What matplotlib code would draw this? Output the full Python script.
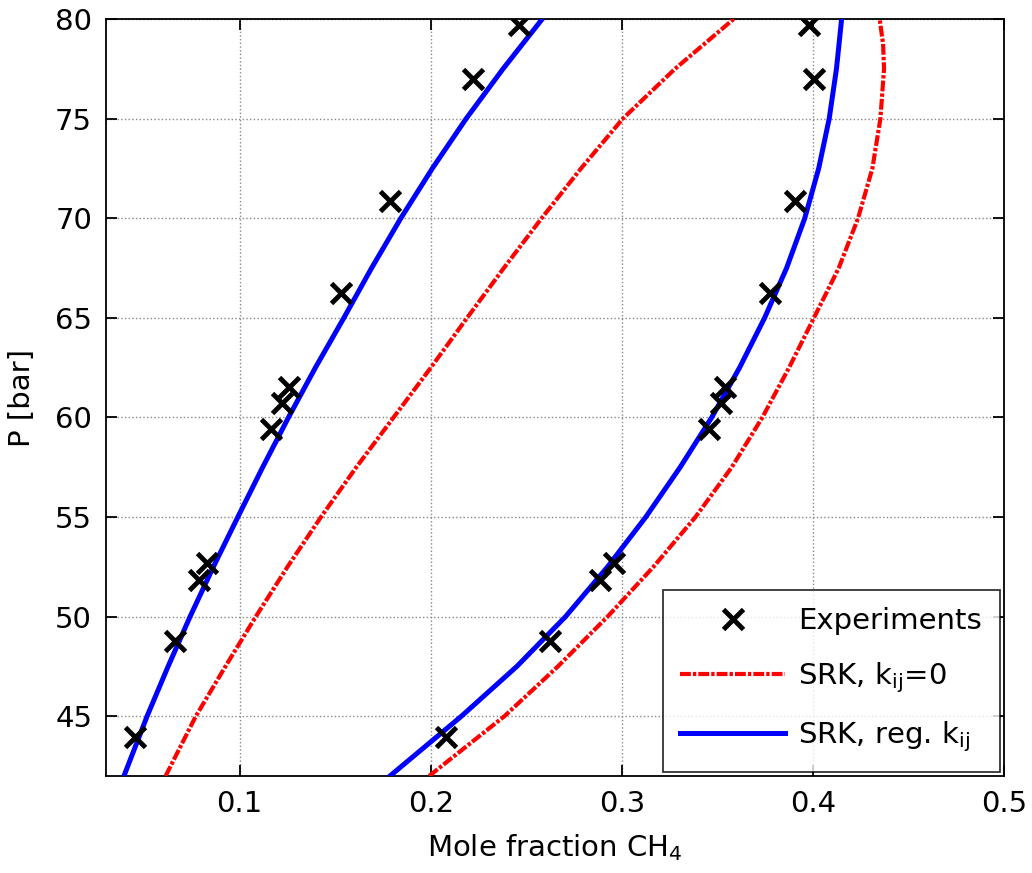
import matplotlib
matplotlib.use('Agg')
import matplotlib.pyplot as plt
import numpy as np

plt.rcParams['font.family'] = ['DejaVu Sans']
plt.rcParams['mathtext.default'] = 'regular'

# experimental points (same pressures on both branches)
exp_P = [43.95, 48.8, 51.85, 52.7, 59.4, 60.75, 61.55, 66.25, 70.85, 77.0, 79.7]
exp_x_left = [0.0452, 0.0661, 0.0787, 0.0830, 0.1166, 0.1222, 0.1258, 0.1529, 0.1786, 0.2222, 0.2459]
exp_x_right = [0.2082, 0.2626, 0.2887, 0.2961, 0.3455, 0.3520, 0.3542, 0.3773, 0.3904, 0.4008, 0.3979]

# SRK, reg. kij
blue_left_P = [42.0, 45.0, 47.5, 50.0, 52.5, 55.0, 57.5, 60.0, 62.5, 65.0, 67.5, 70.0, 72.5, 75.0, 77.5, 80.0]
blue_left_x = [0.0394, 0.0515, 0.0625, 0.0740, 0.0862, 0.0990, 0.1120, 0.1255, 0.1396, 0.1545, 0.1690, 0.1843, 0.2008, 0.2185, 0.2378, 0.2583]
blue_right_P = [42.0, 45.0, 47.5, 50.0, 52.5, 55.0, 57.5, 60.0, 62.5, 65.0, 67.5, 70.0, 72.5, 75.0, 77.5, 80.0]
blue_right_x = [0.1786, 0.2160, 0.2450, 0.2705, 0.2925, 0.3125, 0.3305, 0.3470, 0.3616, 0.3747, 0.3862, 0.3957, 0.4030, 0.4085, 0.4123, 0.4150]

# SRK, kij=0
red_left_P = [42.0, 45.0, 47.5, 50.0, 52.5, 55.0, 57.5, 60.0, 62.5, 65.0, 67.5, 70.0, 72.5, 75.0, 77.5, 80.0]
red_left_x = [0.0612, 0.0770, 0.0925, 0.1084, 0.1250, 0.1425, 0.1610, 0.1805, 0.2000, 0.2190, 0.2382, 0.2580, 0.2786, 0.3005, 0.3278, 0.3585]
red_right_P = [42.0, 45.0, 47.5, 50.0, 52.5, 55.0, 57.5, 60.0, 62.5, 65.0, 67.5, 70.0, 72.5, 75.0, 77.5, 78.75, 80.0]
red_right_x = [0.1991, 0.2385, 0.2665, 0.2925, 0.3165, 0.3385, 0.3575, 0.3735, 0.3875, 0.4005, 0.4135, 0.4236, 0.4311, 0.4353, 0.4372, 0.4367, 0.4349]

fig = plt.figure(figsize=(10.32, 8.73), dpi=100)
ax = fig.add_axes([0.1027, 0.1111, 0.8702, 0.8671])

dd = (2.6, 0.5, 0.8, 0.5)
ax.plot(red_left_x, red_left_P, color='red', lw=3, dashes=dd, label='SRK, k$_{ij}$=0', zorder=3)
ax.plot(red_right_x, red_right_P, color='red', lw=3, dashes=dd, zorder=3)
ax.plot(blue_left_x, blue_left_P, color='blue', lw=3.6, label='SRK, reg. k$_{ij}$', zorder=4)
ax.plot(blue_right_x, blue_right_P, color='blue', lw=3.6, zorder=4)
ax.plot(exp_x_left + exp_x_right, exp_P + exp_P, 'x', color='black', ms=14, mew=3.5,
        label='Experiments', zorder=5)

ax.set_xlim(0.03, 0.5)
ax.set_ylim(42, 80)
ax.set_xticks([0.1, 0.2, 0.3, 0.4, 0.5])
ax.set_xticklabels(['0.1', '0.2', '0.3', '0.4', '0.5'])
ax.set_yticks([45, 50, 55, 60, 65, 70, 75, 80])
ax.grid(True, ls=':', color='#888888', lw=1)
ax.tick_params(direction='in', length=8, width=1.3, top=True, right=True,
               labelsize=21, pad=10)
for s in ax.spines.values():
    s.set_linewidth(1.3)

ax.set_xlabel('Mole fraction CH$_4$', fontsize=21, labelpad=10)
ax.set_ylabel('P [bar]', fontsize=21, labelpad=14)

h, l = ax.get_legend_handles_labels()
order = [2, 0, 1]
leg = ax.legend([h[i] for i in order], [l[i] for i in order], loc='lower right',
                fontsize=21, frameon=True, fancybox=False, edgecolor='black',
                borderaxespad=0.15, handlelength=3.6, handletextpad=0.45,
                labelspacing=0.85, borderpad=0.6)
leg.get_frame().set_linewidth(1.3)

fig.savefig('out.png', dpi=100)
